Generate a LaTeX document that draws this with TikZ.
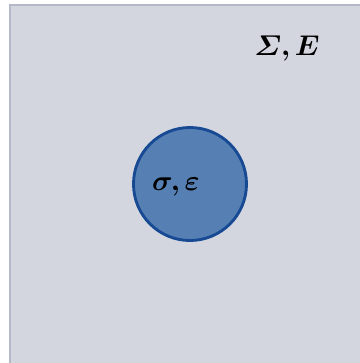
\documentclass[tikz,border=0pt]{standalone}
\usepackage{amsmath, amssymb}
\usepackage{bm}
\usetikzlibrary{positioning, calc}
\definecolor{sfondo}{RGB}{211,214,223}
\definecolor{bordo}{RGB}{181,184,198}
\definecolor{incl}{RGB}{86,128,179}
\definecolor{inclbordo}{RGB}{24,74,148}

\begin{document}
\begin{tikzpicture}[x=0.35pt, y=-0.35pt]
        \useasboundingbox (0,0) rectangle (360,363);
        \clip (0,0) rectangle (360,363);
        %disegno matrice
        \draw[line width=0.8pt, draw=bordo, fill=sfondo] (10,5) rectangle (372,375);
        %disegno inclusione
        \node[circle, minimum size=113*0.35pt, inner sep=0pt, line width=1pt, draw=inclbordo, fill=incl] (inclusione) at (190,184) {};
        %labels
        \node at (287,48) (matrice) {$\bm{\varSigma, E}$};
        \node at (176,187) (fase) {$\bm{\sigma, \varepsilon}$};
    \end{tikzpicture}
\end{document}
